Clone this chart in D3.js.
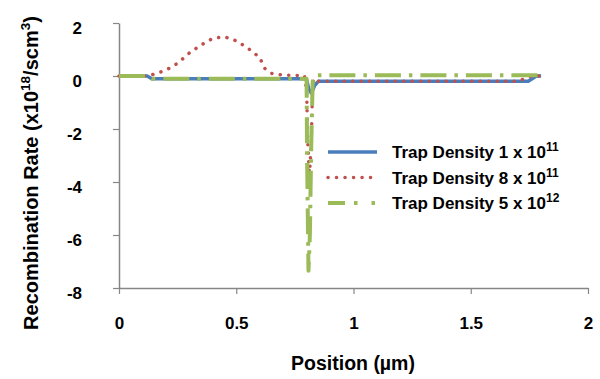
<!DOCTYPE html>
<html>
<head>
<meta charset="utf-8">
<script src="https://cdn.jsdelivr.net/npm/d3@7"></script>
<style>
  body { margin: 0; background: #fff; }
  svg text { font-family: "Liberation Sans", Arial, sans-serif; font-weight: bold; fill: #000; }
</style>
</head>
<body>
<svg id="chart" width="600" height="379"></svg>
<script>

// Data
// ==============================================

var xTicks = [0, 0.5, 1, 1.5, 2];
var yTicks = [2, 0, -2, -4, -6, -8];

var blueX = [0, 0.12, 0.14, 0.5, 0.79, 0.8, 0.81, 0.82, 0.835, 0.85, 1.0, 1.5, 1.745, 1.78, 1.8];
var blueY = [0, 0, -0.1, -0.1, -0.1, -0.15, -0.5, -0.65, -0.35, -0.2, -0.2, -0.2, -0.2, 0, 0];

var redX = [0, 0.12, 0.15, 0.2, 0.25, 0.3, 0.35, 0.4, 0.45, 0.5, 0.55, 0.6, 0.62, 0.65, 0.7, 0.79,
            0.8, 0.805, 0.812, 0.82, 0.825, 0.83, 0.85, 1.0, 1.5, 1.7, 1.76, 1.8];
var redY = [0, 0, 0.07, 0.22, 0.48, 0.87, 1.17, 1.42, 1.48, 1.33, 1.05, 0.7, 0.3, 0.1, 0.03, 0.02,
            -0.5, -2.5, -3.8, -2.5, -0.6, -0.1, -0.2, -0.2, -0.2, -0.2, 0, 0];

var greenX = [0, 0.13, 0.14, 0.5, 0.8, 0.802, 0.808, 0.814, 0.82, 0.826, 0.835, 0.85, 1.5, 1.78, 1.8];
var greenY = [0, 0, -0.1, -0.1, -0.1, -3, -7.35, -6, -2.5, -0.2, 0.03, 0.03, 0.03, 0.03, 0.03];

var seriesNames = ["Trap Density 1 x 10", "Trap Density 8 x 10", "Trap Density 5 x 10"];
var seriesExp = ["11", "11", "12"];

// Setup
// ==============================================

var svg = d3.select("#chart");

var mLeft = 119, mRight = 588, mTop = 23, mBottom = 288;

var xScale = d3.scaleLinear().domain([0, 2]).range([mLeft, mRight]);
var yScale = d3.scaleLinear().domain([-8, 2]).range([mBottom, mTop]);

var axisColor = "#868686";

function zip(xs, ys){
	return xs.map(function(x, i){ return [x, ys[i]]; });
}

// plain hyphen minus, like the reference
function plain(d){ return String(d); }

var line = d3.line()
	.x(function(d){ return xScale(d[0]); })
	.y(function(d){ return yScale(d[1]); });

var styles = [
	{ color: "#4a7ebb", width: 3.5, dash: null, cap: "butt" },
	{ color: "#c0504d", width: 3.5, dash: "0.1 8.4", cap: "round" },
	{ color: "#9bbb59", width: 4, dash: "26 8 3.5 8", cap: "butt" }
];

// Axes
// ==============================================

var xAxis = d3.axisBottom(xScale).tickValues(xTicks).tickSize(6).tickFormat(plain).tickSizeOuter(0);
var yAxis = d3.axisLeft(yScale).tickValues(yTicks).tickSize(6).tickFormat(plain).tickSizeOuter(0);

var gx = svg.append("g").attr("transform", "translate(0," + mBottom + ")").call(xAxis);
var gy = svg.append("g").attr("transform", "translate(" + mLeft + ",0)").call(yAxis);

[gx, gy].forEach(function(g){
	g.select(".domain").attr("stroke", axisColor).attr("stroke-width", 1.5);
	g.selectAll(".tick line").attr("stroke", axisColor).attr("stroke-width", 1.2);
	g.selectAll(".tick text").attr("font-size", 17).attr("font-family", "Liberation Sans, Arial, sans-serif").attr("font-weight", "bold").attr("fill", "#000");
});
gx.selectAll(".tick text").attr("y", 29);
gy.selectAll(".tick text").attr("x", -37).attr("dy", "0.62em").attr("text-anchor", "end");

// Series
// ==============================================

var data = [zip(blueX, blueY), zip(redX, redY), zip(greenX, greenY)];

svg.selectAll("path.series")
	.data(data)
	.enter().append("path")
	.attr("class", "series")
	.attr("d", line)
	.attr("fill", "none")
	.attr("stroke", function(d, i){ return styles[i].color; })
	.attr("stroke-width", function(d, i){ return styles[i].width; })
	.attr("stroke-dasharray", function(d, i){ return styles[i].dash; })
	.attr("stroke-linecap", function(d, i){ return styles[i].cap; })
	.attr("stroke-linejoin", "round");

// Legend
// ==============================================

var legend = svg.append("g").attr("transform", "translate(328,152)");

var rows = legend.selectAll("g.row")
	.data(seriesNames)
	.enter().append("g")
	.attr("class", "row")
	.attr("transform", function(d, i){ return "translate(0," + (i * 25.5) + ")"; });

rows.append("line")
	.attr("x1", 0).attr("x2", 49).attr("y1", 0).attr("y2", 0)
	.attr("stroke", function(d, i){ return styles[i].color; })
	.attr("stroke-width", function(d, i){ return styles[i].width; })
	.attr("stroke-dasharray", function(d, i){ return i === 2 ? "17 9 3.5 14 3.5 9" : styles[i].dash; })
	.attr("stroke-linecap", function(d, i){ return styles[i].cap; });

var lt = rows.append("text")
	.attr("x", 64).attr("y", 6)
	.attr("font-size", 17);
lt.append("tspan").text(function(d){ return d; });
lt.append("tspan").attr("font-size", 12).attr("dy", -7).text(function(d, i){ return seriesExp[i]; });

// Axis titles
// ==============================================

svg.append("text")
	.attr("x", 353).attr("y", 370)
	.attr("text-anchor", "middle")
	.attr("font-size", 19.5)
	.text("Position (µm)");

var yt = svg.append("text")
	.attr("transform", "translate(38,173) rotate(-90)")
	.attr("text-anchor", "middle")
	.attr("font-size", 20);
yt.append("tspan").text("Recombination Rate (x10");
yt.append("tspan").attr("font-size", 13.5).attr("dy", -8).text("18");
yt.append("tspan").attr("dy", 8).text("/scm");
yt.append("tspan").attr("font-size", 13.5).attr("dy", -8).text("3");
yt.append("tspan").attr("dy", 8).text(")");

</script>
</body>
</html>
